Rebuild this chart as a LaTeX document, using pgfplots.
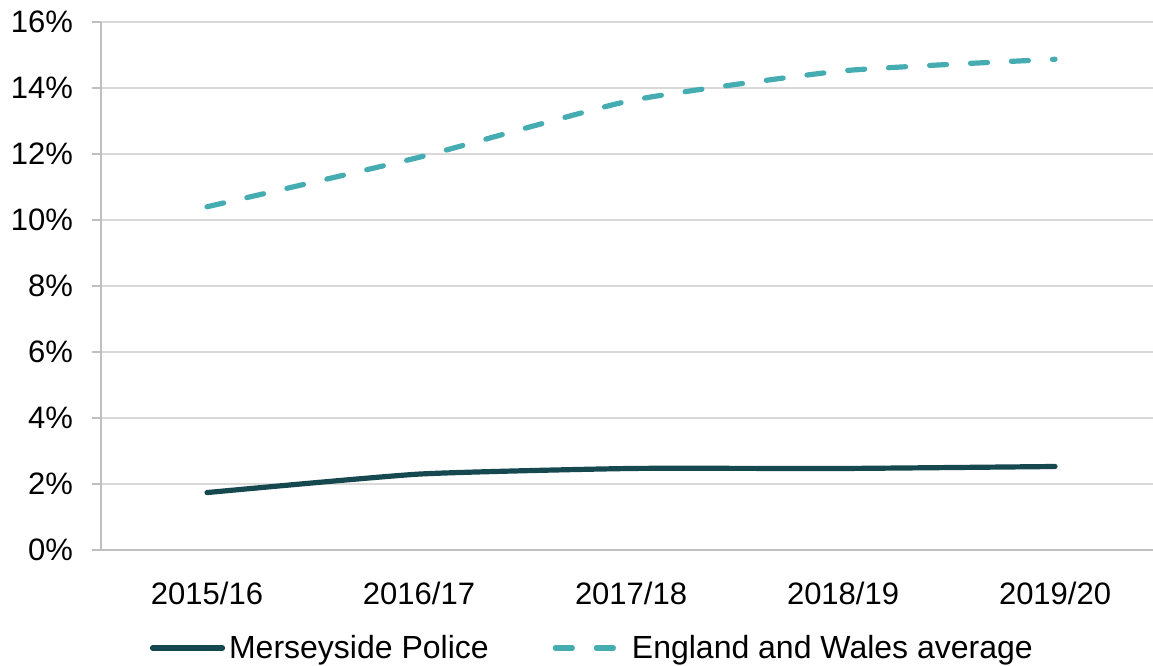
\documentclass[border=0pt]{standalone}
\usepackage{pgfplots}
\pgfplotsset{compat=1.18}
\usepackage{fontspec}
\setmainfont{Liberation Sans}
\definecolor{mersey}{RGB}{22,72,80}
\definecolor{ew}{RGB}{69,173,178}
\definecolor{gridc}{RGB}{217,217,217}
\definecolor{axc}{RGB}{191,191,191}
\begin{document}
\begin{tikzpicture}
\begin{axis}[
  name=ax,
  scale only axis,
  width=526pt, height=264pt,
  xmin=-0.5, xmax=4.462,
  ymin=0, ymax=16,
  axis lines*=left,
  axis line style={draw=axc, line width=0.8pt},
  xtick={0,1,2,3,4},
  xticklabels={2015/16,2016/17,2017/18,2018/19,2019/20},
  major x tick style={draw=none},
  extra x ticks={-0.5,0.5,1.5,2.5,3.5},
  extra x tick labels={},
  extra x tick style={grid=none, major tick length=4.5pt, tick style={draw=axc, line width=0.8pt}},
  ytick={0,2,...,16},
  yticklabels={0\%,2\%,4\%,6\%,8\%,10\%,12\%,14\%,16\%},
  ymajorgrids,
  grid style={draw=gridc, line width=0.8pt},
  tick align=outside,
  major tick length=4.5pt,
  y tick style={draw=axc, line width=0.8pt},
  tick label style={font=\fontsize{15.5pt}{18pt}\selectfont},
  xticklabel style={yshift=-8pt},
  yticklabel style={xshift=-6pt},
  legend columns=2,
  legend style={draw=none, fill=none, at={(axis description cs:0.468,0)}, anchor=center, yshift=-49pt,
    font=\fontsize{16pt}{19pt}\selectfont,
    /tikz/every even column/.append style={column sep=30pt},
    inner sep=0pt},
  legend image code/.code={\draw[#1] (0pt,0pt) -- (35pt,0pt);},
  clip=false,
]
\addplot[color=mersey, line width=2.6pt, line cap=round, smooth, tension=0.3] coordinates {
  (0,1.74) (1,2.30) (2,2.47) (3,2.47) (4,2.53)
};
\addlegendentry{Merseyside Police}
\addplot[color=ew, line width=2.6pt, line cap=round, dash pattern=on 8.5pt off 12pt, smooth, tension=0.3] coordinates {
  (0,10.40) (1,11.90) (2,13.62) (3,14.52) (4,14.87)
};
\addlegendentry{England and Wales average}
\end{axis}
\pgfresetboundingbox
\path ([shift={(-50.5pt,-58pt)}]ax.south west) rectangle ([shift={(0pt,11pt)}]ax.north east);
\end{tikzpicture}
\end{document}
